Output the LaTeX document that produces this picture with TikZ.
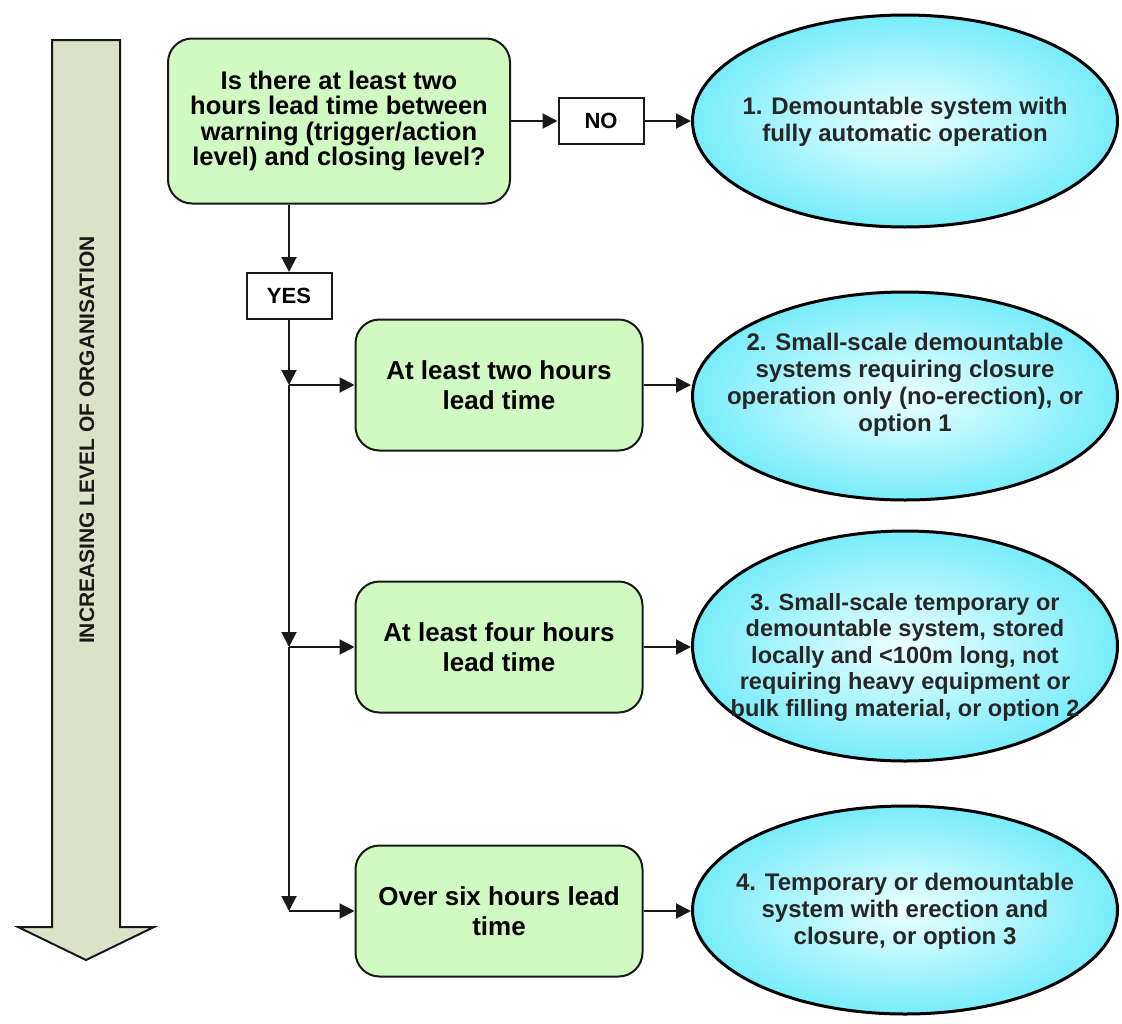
\documentclass[tikz,border=0pt]{standalone}
\usepackage{fontspec}
\setmainfont{Liberation Sans}
\usetikzlibrary{arrows.meta,shapes.geometric}
\definecolor{boxgreen}{RGB}{208,250,194}
\definecolor{ellout}{RGB}{120,236,250}
\definecolor{ellin}{RGB}{236,255,255}
\definecolor{arrfill}{RGB}{220,226,200}
\definecolor{linecol}{RGB}{25,25,25}
\begin{document}
\begin{tikzpicture}[x=1pt,y=-1pt,
 conn/.style={line width=2pt, draw=linecol, -{Triangle[length=15pt,width=15pt]}},
 greenbox/.style={draw=linecol, line width=2pt, fill=boxgreen, rounded corners=24pt, align=center,
   font=\bfseries\fontsize{26}{30}\selectfont, inner sep=0pt, minimum width=287pt, minimum height=131pt},
 labelbox/.style={draw=linecol, line width=2pt, fill=white, inner sep=0pt,
   font=\bfseries\fontsize{22}{24}\selectfont, minimum width=85pt, minimum height=46pt},
 oval/.style={ellipse, draw=black, line width=3pt, inner color=ellin, outer color=ellout,
   inner sep=0pt, minimum width=425pt},
 ovaltext/.style={align=center, inner sep=0pt, font=\bfseries\fontsize{24}{27}\selectfont, text=black!85}
]
\useasboundingbox (0,0) rectangle (1122,1023);

% left arrow
\draw[line width=2pt, draw=linecol, fill=arrfill, line join=miter]
  (52,40) -- (120,40) -- (120,927) -- (154,927) -- (86,960) -- (18,927) -- (52,927) -- cycle;
\node[rotate=90, font=\bfseries\fontsize{21}{24}\selectfont, text=black!90] (lab) at (87,440)
  {INCREASING LEVEL OF ORGANISATION};

% top decision box
\node[greenbox, minimum width=342pt, minimum height=165pt,
  font=\bfseries\fontsize{25.5}{25.5}\selectfont] (top) at (339,121)
  {Is there at least two\\hours lead time between\\warning (trigger/action\\level) and closing level?};
\node[labelbox] (no) at (601,121) {NO};
\node[labelbox] (yes) at (289,296) {YES};

% option boxes
\node[greenbox] (b2) at (499,385) {At least two hours\\lead time};
\node[greenbox] (b3) at (499,647) {At least four hours\\lead time};
\node[greenbox] (b4) at (499,911) {Over six hours lead\\time};

% ellipses
\node[oval, minimum height=212pt] (e1) at (905,121) {};
\node[ovaltext] (t1) at (905,122) {1. Demountable system with\\fully automatic operation};
\node[oval, minimum height=208pt] (e2) at (905,396) {};
\node[ovaltext] (t2) at (905,385) {2. Small-scale demountable\\systems requiring closure\\operation only (no-erection), or\\option 1};
\node[oval, minimum height=230pt] (e3) at (905,646) {};
\node[ovaltext, font=\bfseries\fontsize{23.5}{26.5}\selectfont] (t3) at (905,657)
  {3. Small-scale temporary or\\demountable system, stored\\locally and <100m long, not\\requiring heavy equipment or\\bulk filling material, or option 2};
\node[oval, minimum height=208pt] (e4) at (905,910) {};
\node[ovaltext] (t4) at (905,911) {4. Temporary or demountable\\system with erection and\\closure, or option 3};

% junctions
\coordinate (j1) at (289,385);
\coordinate (j2) at (289,647);
\coordinate (j3) at (289,911);

% connectors
\draw[conn] (top.east |- no.west) -- (no.west);
\draw[conn] (no.east) -- (e1.west |- no.east);
\draw[conn] (yes.north |- top.south) -- (yes.north);
\draw[conn] (yes.south) -- (j1);
\draw[conn] (j1) -- (j2);
\draw[conn] (j2) -- (j3);
\draw[conn] (j1) -- (b2.west);
\draw[conn] (j2) -- (b3.west);
\draw[conn] (j3) -- (b4.west);
\draw[conn] (b2.east) -- (e2.west |- b2.east);
\draw[conn] (b3.east) -- (e3.west |- b3.east);
\draw[conn] (b4.east) -- (e4.west |- b4.east);
\end{tikzpicture}
\end{document}
